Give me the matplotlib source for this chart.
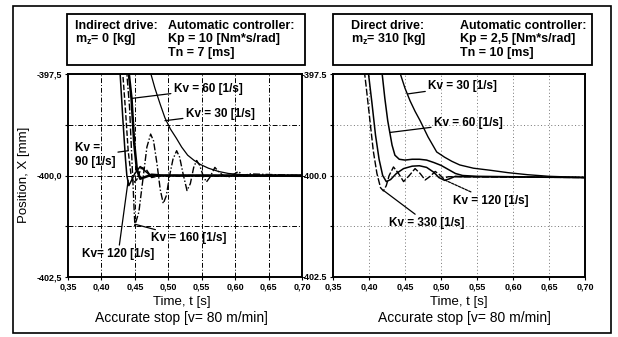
import matplotlib.pyplot as plt
from matplotlib.patches import Rectangle

plt.rcParams['font.family'] = ['Liberation Sans', 'DejaVu Sans']

W, H = 618, 337

# x ticks / y ticks
time_ticks = [0.35, 0.40, 0.45, 0.50, 0.55, 0.60, 0.65, 0.70]
time_labels = ['0,35', '0,40', '0,45', '0,50', '0,55', '0,60', '0,65', '0,70']
pos_ticks = [-402.5, -401.25, -400.0, -398.75, -397.5]
left_pos_labels = ['-402,5', '', '-400,0', '', '-397,5']
right_pos_labels = ['-402.5', '', '-400.0', '', '-397.5']

# ---- indirect drive (left) ----
l30_t = [0.470, 0.474, 0.480, 0.488, 0.495, 0.503, 0.512, 0.520, 0.529, 0.538, 0.547,
         0.560, 0.575, 0.590, 0.610, 0.640, 0.700]
l30_x = [-397.2, -397.5, -397.85, -398.25, -398.58, -398.85, -399.08, -399.3, -399.5,
         -399.62, -399.72, -399.82, -399.9, -399.95, -399.98, -400.0, -400.0]

l60_t = [0.439, 0.441, 0.445, 0.449, 0.453, 0.458, 0.465, 0.475, 0.490, 0.700]
l60_x = [-397.2, -397.5, -398.1, -399.2, -399.85, -400.08, -400.04, -399.98, -400.0, -400.0]

l90_t = [0.430, 0.432, 0.436, 0.440, 0.444, 0.448, 0.453, 0.460, 0.467, 0.475, 0.490, 0.700]
l90_x = [-397.2, -397.5, -398.4, -399.39, -399.95, -400.18, -400.1, -399.8, -399.85, -400.05, -400.0, -400.0]

l120_t = [0.425, 0.428, 0.432, 0.436, 0.438, 0.441, 0.445, 0.450, 0.458, 0.466, 0.475, 0.490, 0.700]
l120_x = [-397.2, -397.5, -398.6, -399.6, -400.0, -400.25, -400.12, -399.95, -399.78, -399.9,
          -400.02, -400.0, -400.02]

l160_t = [0.436, 0.438, 0.442, 0.445, 0.448, 0.450, 0.456, 0.462, 0.468, 0.4736, 0.478,
          0.483, 0.488, 0.4925, 0.497, 0.502, 0.507, 0.5125, 0.517, 0.522, 0.528, 0.533,
          0.538, 0.5424, 0.547, 0.552, 0.557, 0.562, 0.5697, 0.575, 0.582, 0.590, 0.598,
          0.605, 0.613, 0.620, 0.700]
l160_x = [-397.0, -397.5, -398.3, -399.4, -400.5, -401.23, -400.9, -400.1, -399.3, -398.98,
          -399.15, -399.7, -400.35, -400.69, -400.5, -400.0, -399.6, -399.39, -399.55,
          -399.95, -400.37, -400.2, -399.8, -399.63, -399.75, -400.0, -400.16, -400.05,
          -399.8, -399.9, -400.0, -400.04, -399.97, -399.9, -400.02, -399.96, -400.0]

# ---- direct drive (right) ----
r30_t = [0.438, 0.443, 0.450, 0.457, 0.464, 0.471, 0.482, 0.494, 0.505, 0.515, 0.526,
         0.545, 0.568, 0.593, 0.620, 0.650, 0.700]
r30_x = [-397.2, -397.47, -397.85, -398.16, -398.42, -398.65, -399.05, -399.42, -399.55,
         -399.65, -399.74, -399.82, -399.87, -399.93, -399.98, -400.02, -400.05]

r60_t = [0.415, 0.418, 0.422, 0.426, 0.429, 0.432, 0.436, 0.442, 0.450, 0.460, 0.470,
         0.480, 0.490, 0.500, 0.510, 0.520, 0.530, 0.550, 0.700]
r60_x = [-397.2, -397.45, -398.1, -398.65, -398.95, -399.25, -399.5, -399.6, -399.62,
         -399.6, -399.6, -399.62, -399.68, -399.75, -399.85, -399.95, -400.0, -400.02, -400.05]

r120_t = [0.397, 0.399, 0.404, 0.409, 0.414, 0.419, 0.424, 0.430, 0.438, 0.448, 0.460,
          0.470, 0.480, 0.490, 0.497, 0.505, 0.512, 0.520, 0.530, 0.700]
r120_x = [-397.2, -397.45, -398.2, -399.0, -399.6, -400.0, -400.15, -400.1, -399.95,
          -399.83, -399.77, -399.76, -399.8, -399.92, -400.05, -400.12, -400.08, -400.02,
          -400.03, -400.05]

r330_t = [0.392, 0.396, 0.401, 0.406, 0.411, 0.416, 0.420, 0.424, 0.428, 0.434, 0.441,
          0.448, 0.456, 0.464, 0.471, 0.478, 0.485, 0.492, 0.498, 0.503, 0.510, 0.700]
r330_x = [-397.2, -397.8, -398.6, -399.4, -399.95, -400.3, -400.38, -400.25, -400.0,
          -399.79, -399.95, -400.15, -400.0, -399.83, -399.95, -400.11, -400.02, -399.9,
          -399.98, -400.07, -400.03, -400.05]


def fx(px):
    return px / W


def fy(py):
    return 1 - py / H


fig = plt.figure(figsize=(W / 100, H / 100), dpi=100)

# outer frame
fig.patches.append(Rectangle((fx(13), fy(333)), fx(611) - fx(13), fy(6) - fy(333),
                             transform=fig.transFigure, fill=False, lw=1.2, ec='black'))

ax1 = fig.add_axes([fx(68), fy(277), fx(302) - fx(68), fy(74) - fy(277)])
ax2 = fig.add_axes([fx(333), fy(277), fx(585) - fx(333), fy(74) - fy(277)])

for ax, ylabels in [(ax1, left_pos_labels), (ax2, right_pos_labels)]:
    ax.set_xlim(0.35, 0.70)
    ax.set_ylim(-402.5, -397.5)
    ax.set_xticks(time_ticks)
    ax.set_xticklabels(time_labels, fontsize=6.5, fontweight='bold')
    ax.set_yticks(pos_ticks)
    ax.set_yticklabels(ylabels, fontsize=6.5, fontweight='bold')
    ax.tick_params(length=2, width=0.8, pad=2)
    for s in ax.spines.values():
        s.set_linewidth(1.4)

fig.text(fx(24), fy(175), 'Position, X [mm]', fontsize=9.5, rotation=90,
         ha='center', va='center')

# grids
for t in time_ticks[1:-1]:
    ax1.axvline(t, color='black', lw=0.7, ls=(0, (5, 2, 1, 2)), zorder=0)
    ax2.axvline(t, color='0.45', lw=0.7, ls=(0, (1, 2.5)), zorder=0)
for y in [-401.25, -400.0, -398.75]:
    ax1.axhline(y, color='black', lw=0.7, ls=(0, (5, 2, 1, 2)), zorder=0)
    ax2.axhline(y, color='0.45', lw=0.7, ls=(0, (1, 2.5)), zorder=0)

# left curves
ax1.plot(l30_t, l30_x, color='black', lw=0.9)
ax1.plot(l60_t, l60_x, color='black', lw=1.8)
ax1.plot(l90_t, l90_x, color='black', lw=1.0, ls=(0, (4, 1.5)))
ax1.plot(l120_t, l120_x, color='black', lw=1.1)
ax1.plot(l160_t, l160_x, color='black', lw=1.0, ls=(0, (5, 1.5, 1, 1.5)))

# right curves
ax2.plot(r30_t, r30_x, color='black', lw=1.0)
ax2.plot(r60_t, r60_x, color='black', lw=1.1)
ax2.plot(r120_t, r120_x, color='black', lw=1.1)
ax2.plot(r330_t, r330_x, color='black', lw=1.0, ls=(0, (5, 1.5)))

lab = dict(fontsize=8.5, fontweight='bold', va='center', ha='left')
arr = dict(arrowstyle='-', color='black', lw=0.9, shrinkA=0, shrinkB=0)

# left labels
ax1.annotate('Kv = 60 [1/s]', xy=(0.446, -398.1), xytext=(0.508, -397.87),
             arrowprops=arr, **lab)
ax1.annotate('Kv = 30 [1/s]', xy=(0.495, -398.65), xytext=(0.526, -398.48),
             arrowprops=arr, **lab)
ax1.annotate('Kv =\n90 [1/s]', xy=(0.440, -399.39), xytext=(0.360, -399.5),
             arrowprops=arr, linespacing=1.25, **lab)
ax1.annotate('Kv = 160 [1/s]', xy=(0.450, -401.2), xytext=(0.474, -401.55),
             arrowprops=arr, **lab)
ax1.annotate('Kv= 120 [1/s]', xy=(0.440, -400.12), xytext=(0.371, -401.93),
             arrowprops=arr, **lab)

# right labels
ax2.annotate('Kv = 30 [1/s]', xy=(0.454, -397.99), xytext=(0.482, -397.8),
             arrowprops=arr, **lab)
ax2.annotate('Kv = 60 [1/s]', xy=(0.429, -398.94), xytext=(0.490, -398.7),
             arrowprops=arr, **lab)
ax2.annotate('Kv = 120 [1/s]', xy=(0.505, -400.11), xytext=(0.516, -400.62),
             arrowprops=dict(arr, ls=(0, (2, 1))), **lab)
ax2.annotate('Kv = 330 [1/s]', xy=(0.421, -400.38), xytext=(0.428, -401.17),
             arrowprops=arr, **lab)

# axis titles and bottom captions
fig.text(fx(182), fy(302), 'Time, t [s]', fontsize=9.5, ha='center', va='center')
fig.text(fx(459), fy(302), 'Time, t [s]', fontsize=9.5, ha='center', va='center')
fig.text(fx(181), fy(318), 'Accurate stop [v= 80 m/min]', fontsize=10, ha='center', va='center')
fig.text(fx(464), fy(318), 'Accurate stop [v= 80 m/min]', fontsize=10, ha='center', va='center')

# header boxes
for x0, x1 in [(67, 305), (333, 592)]:
    fig.patches.append(Rectangle((fx(x0), fy(65)), fx(x1) - fx(x0), fy(14) - fy(65),
                                 transform=fig.transFigure, fill=False, lw=1.3, ec='black'))

box = dict(fontsize=9, fontweight='bold', ha='left', va='center')
fig.text(fx(75), fy(26), 'Indirect drive:', **box)
fig.text(fx(75), fy(39), r'm$_\mathregular{z}$= 0 [kg]', **box)
fig.text(fx(168), fy(26), 'Automatic controller:', **box)
fig.text(fx(168), fy(39), 'Kp = 10 [Nm*s/rad]', **box)
fig.text(fx(168), fy(53), 'Tn = 7 [ms]', **box)

fig.text(fx(351), fy(26), 'Direct drive:', **box)
fig.text(fx(351), fy(39), r'm$_\mathregular{z}$= 310 [kg]', **box)
fig.text(fx(460), fy(26), 'Automatic controller:', **box)
fig.text(fx(460), fy(39), 'Kp = 2,5 [Nm*s/rad]', **box)
fig.text(fx(460), fy(53), 'Tn = 10 [ms]', **box)

fig.savefig('out.png', dpi=100)
